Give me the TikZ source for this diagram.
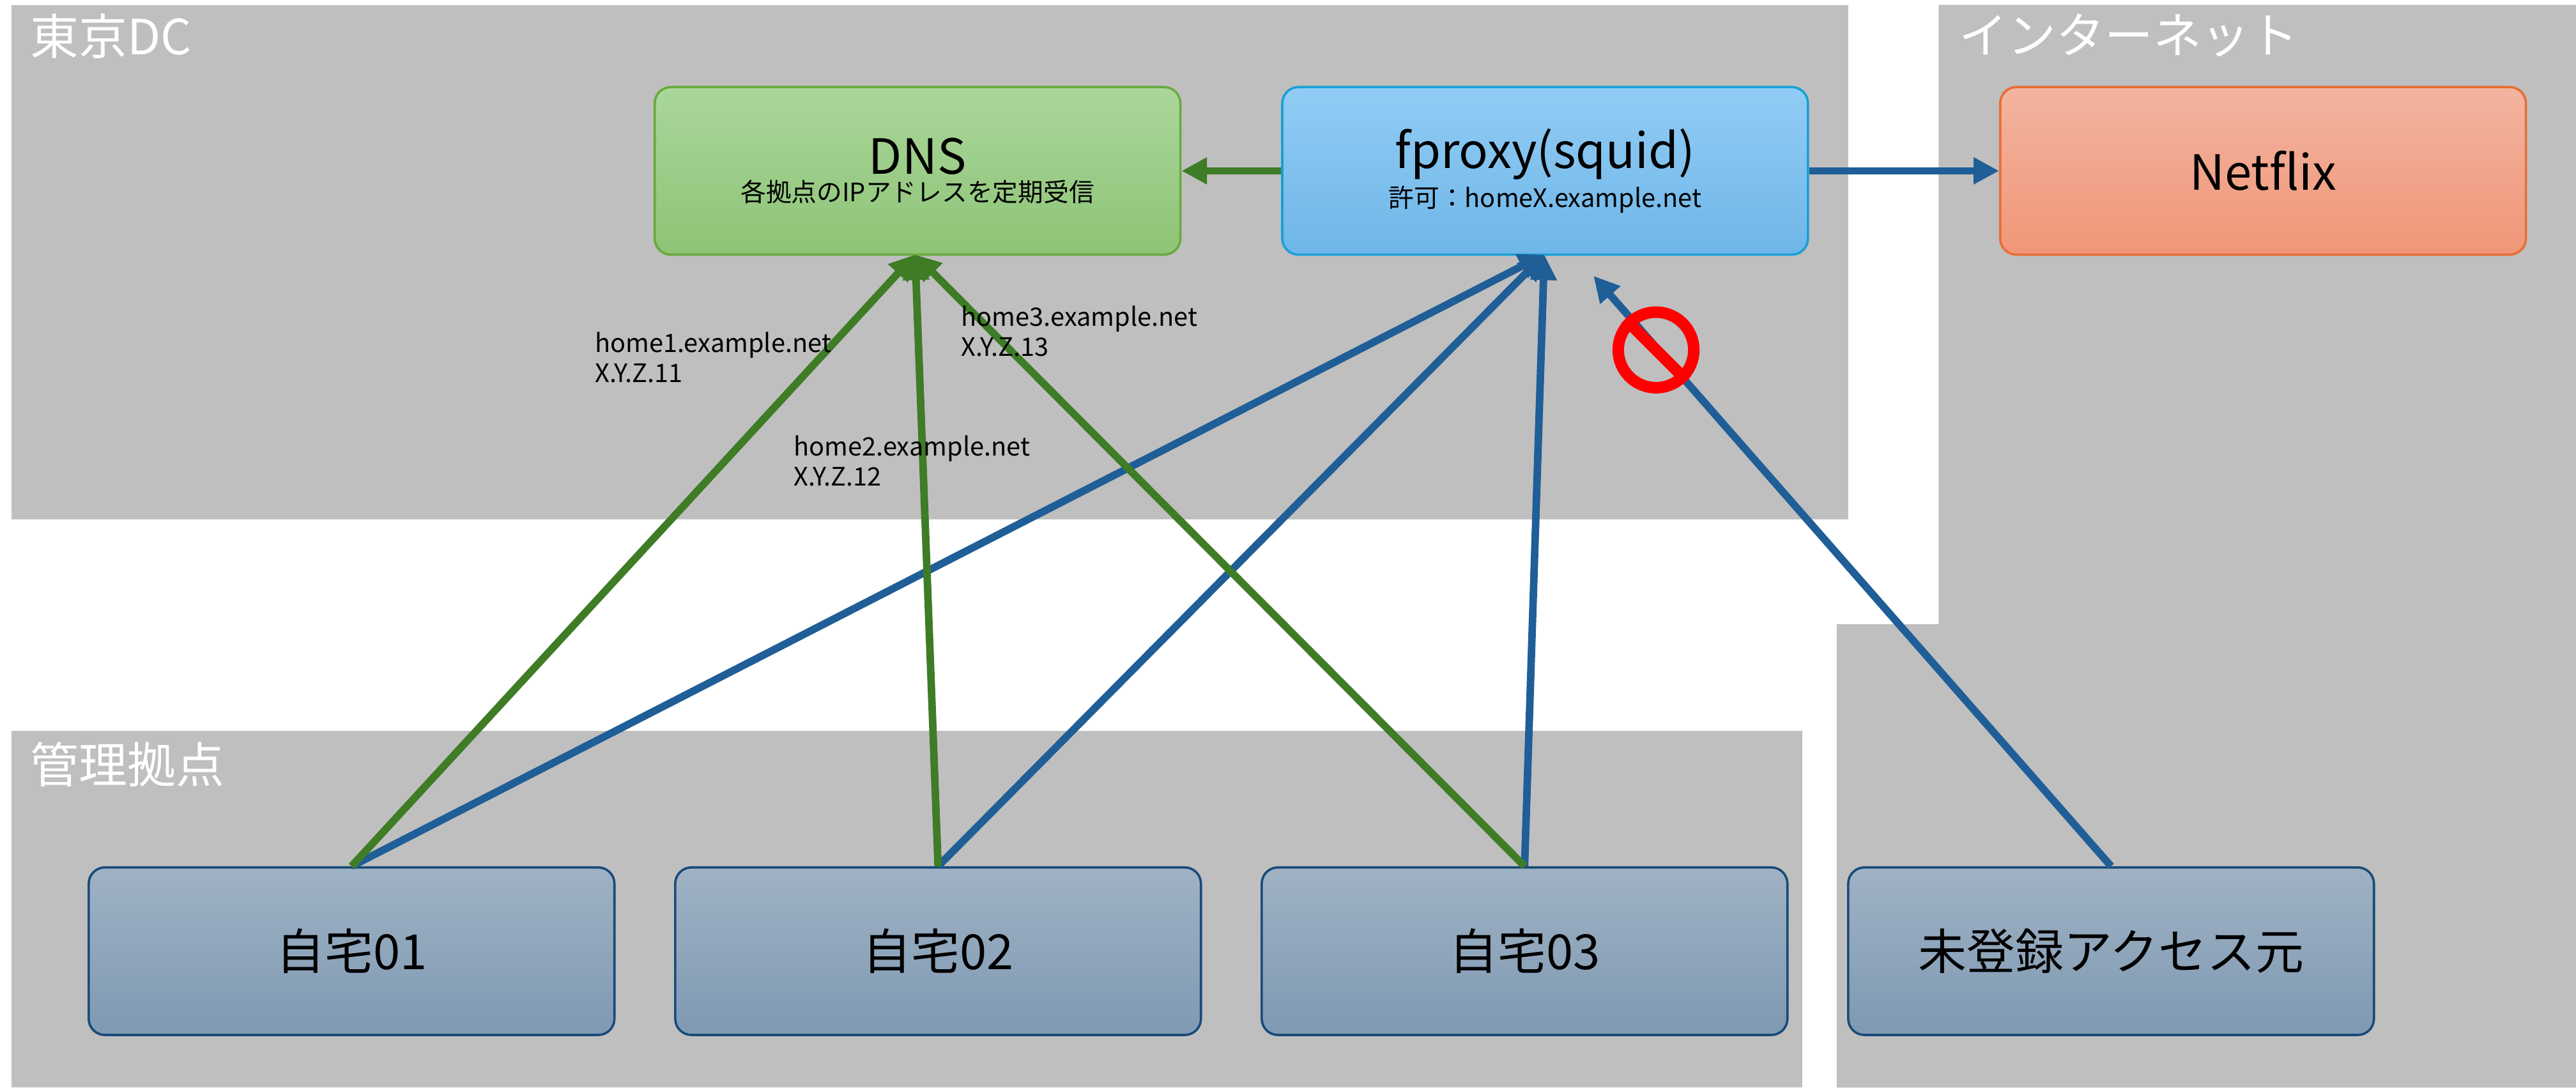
\documentclass[tikz,border=0pt]{standalone}
\usepackage{fontspec}
\setmainfont{Noto Sans CJK JP}
\usetikzlibrary{arrows.meta}
\begin{document}
\begin{tikzpicture}[x=0.05cm,y=-0.05cm,
  region/.style={fill=gray!50!white,draw=none},
  rlabel/.style={anchor=north west,font=\fontsize{42}{44}\selectfont,text=white},
  box/.style={rounded corners=14pt,line width=2pt,minimum width=16cm,minimum height=5.1cm,inner sep=0pt},
  home/.style={box,font=\fontsize{42}{46}\selectfont},
  garr/.style={line width=6.5pt,-{Triangle[length=22pt,width=22pt]}},
  barr/.style={line width=6.5pt,-{Triangle[length=22pt,width=22pt]}},
  lbl/.style={anchor=north west,align=left,font=\fontsize{22}{26}\selectfont,inner sep=0pt}]
\definecolor{bl}{RGB}{31,94,151}
\definecolor{gr}{RGB}{62,124,38}
\tikzset{garr/.append style={draw=gr,color=gr},barr/.append style={draw=bl,color=bl},
 home/.append style={draw=bl!80!black,top color={rgb,255:red,160;green,178;blue,196},bottom color={rgb,255:red,126;green,153;blue,178}}}
\useasboundingbox (0,0) rectangle (1568,662);
\fill[white] (0,0) rectangle (1568,662);
\fill[region] (7,3) rectangle (1125,316);
\fill[region] (1180,3) -- (1568,3) -- (1568,662) -- (1118,662) -- (1118,380) -- (1180,380) -- cycle;
\fill[region] (7,445) rectangle (1097,662);
\node[rlabel] (tdc) at (16,6) {東京DC};
\node[rlabel] (inet) at (1190,6) {インターネット};
\node[rlabel] (kan) at (16,449) {管理拠点};
\node[box,draw={rgb,255:red,104;green,170;blue,60},top color={rgb,255:red,170;green,214;blue,155},bottom color={rgb,255:red,142;green,196;blue,118},align=center] (dns) at (558.5,104) {\fontsize{42}{44}\selectfont DNS\\[4pt]\fontsize{22}{26}\selectfont 各拠点のIPアドレスを定期受信};
\node[box,draw={rgb,255:red,24;green,160;blue,214},top color={rgb,255:red,146;green,204;blue,245},bottom color={rgb,255:red,110;green,182;blue,232},align=center] (fp) at (940.5,104) {\fontsize{42}{44}\selectfont fproxy(squid)\\[4pt]\fontsize{22}{26}\selectfont 許可：homeX.example.net};
\node[box,draw={rgb,255:red,232;green,110;blue,50},top color={rgb,255:red,243;green,180;blue,160},bottom color={rgb,255:red,240;green,150;blue,120},font=\fontsize{42}{44}\selectfont] (nf) at (1377.5,104) {Netflix};
\node[home] (h1) at (214,579) {自宅01};
\node[home] (h2) at (571,579) {自宅02};
\node[home] (h3) at (928,579) {自宅03};
\node[home] (h4) at (1285,579) {未登録アクセス元};
\coordinate (dnsb) at (557,155);
\coordinate (fpb) at (940,155);
\coordinate (fpc) at (970,168);
\draw[garr] (fp.west) -- (dns.east);
\draw[barr] (fp.east) -- (nf.west);
\draw[barr] (h1.north) -- (fpb);
\draw[barr] (h2.north) -- (fpb);
\draw[barr] (h3.north) -- (fpb);
\draw[garr] (h1.north) -- (dnsb);
\draw[garr] (h2.north) -- (dnsb);
\draw[garr] (h3.north) -- (dnsb);
\draw[barr] (h4.north) -- (fpc);
\node[circle,draw=red,line width=10pt,minimum size=2.3cm,inner sep=0pt] (ng) at (1008,213) {};
\draw[red,line width=10pt] (ng.135) -- (ng.-45);
\node[lbl] (l1) at (362,202) {home1.example.net\\X.Y.Z.11};
\node[lbl] (l3) at (585,186) {home3.example.net\\X.Y.Z.13};
\node[lbl] (l2) at (483,265) {home2.example.net\\X.Y.Z.12};
\end{tikzpicture}
\end{document}
